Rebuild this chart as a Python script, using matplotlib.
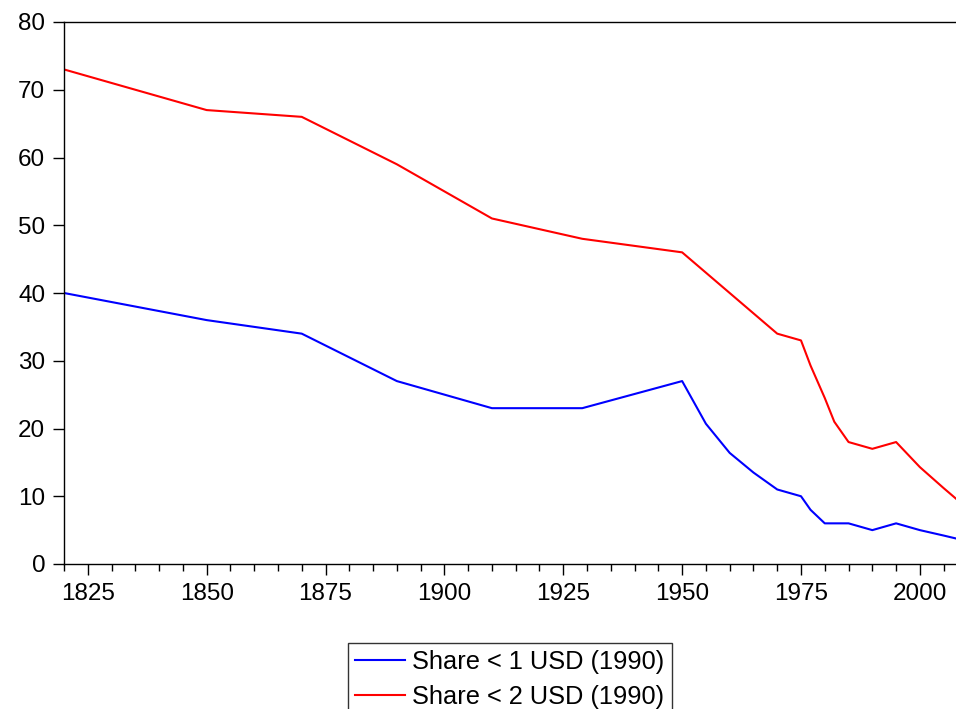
import matplotlib
matplotlib.use("Agg")
import matplotlib.pyplot as plt
from matplotlib.ticker import MultipleLocator

plt.rcParams["font.family"] = ["Liberation Sans", "DejaVu Sans"]

years_1usd = [1820, 1850, 1870, 1890, 1910, 1929, 1950, 1955, 1960, 1965, 1970, 1975,
              1977, 1980, 1985, 1990, 1995, 2000, 2005, 2008]
share_1usd = [40, 36, 34, 27, 23, 23, 27, 20.7, 16.4, 13.5, 11, 10,
              8, 6, 6, 5, 6, 5, 4.2, 3.7]

years_2usd = [1820, 1850, 1870, 1890, 1910, 1929, 1950, 1960, 1970, 1975, 1977, 1980,
              1982, 1985, 1990, 1995, 2000, 2005, 2008]
share_2usd = [73, 67, 66, 59, 51, 48, 46, 40, 34, 33, 29.3, 24.5,
              21, 18, 17, 18, 14.3, 11.2, 9.4]

labels = ["Share < 1 USD (1990)", "Share < 2 USD (1990)"]
xticks = [1825, 1850, 1875, 1900, 1925, 1950, 1975, 2000]

fig = plt.figure(figsize=(9.56, 7.09), dpi=100)
ax = fig.add_axes([64 / 956, 1 - 564 / 709, 1 - 64 / 956 + 0.002, (564 - 22) / 709])

ax.plot(years_1usd, share_1usd, color="#0000ff", lw=1.5, label=labels[0])
ax.plot(years_2usd, share_2usd, color="#ff0000", lw=1.5, label=labels[1])

ax.set_xlim(1820, 2008)
ax.set_ylim(0, 80)
ax.set_xticks(xticks)
ax.xaxis.set_minor_locator(MultipleLocator(5))
ax.yaxis.set_major_locator(MultipleLocator(10))

ax.tick_params(axis="x", which="major", length=8, width=1, labelsize=17.5, pad=5.5)
ax.tick_params(axis="x", which="minor", length=5, width=1)
ax.tick_params(axis="y", which="major", length=8, width=1, labelsize=17.5, pad=5.5)
ax.spines["right"].set_visible(False)
for s in ["left", "bottom", "top"]:
    ax.spines[s].set_linewidth(1.0)

leg = fig.legend(loc="upper left", bbox_to_anchor=(347.5 / 956, 1 - 642.7 / 709),
                 frameon=True, fancybox=False, fontsize=18.3, borderpad=0.28,
                 handlelength=1.97, handletextpad=0.3, labelspacing=0.45,
                 borderaxespad=0)
leg.get_frame().set_edgecolor("black")
leg.get_frame().set_linewidth(1.0)

fig.savefig("out.png", dpi=100)
